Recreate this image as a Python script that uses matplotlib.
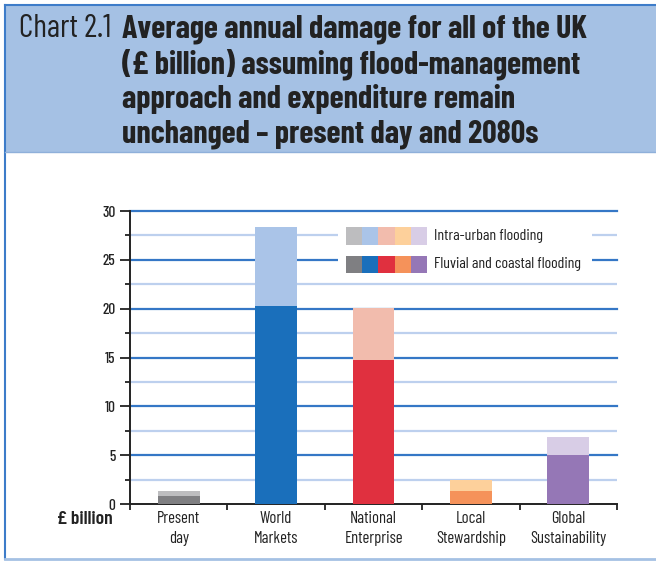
import matplotlib
matplotlib.use("Agg")
import matplotlib.pyplot as plt
from matplotlib.patches import Rectangle
from matplotlib.lines import Line2D
import numpy as np

NARROW = ["Barlow Condensed", "Archivo Narrow", "DejaVu Sans"]

categories = ["Present\nday", "World\nMarkets", "National\nEnterprise", "Local\nStewardship", "Global\nSustainability"]
fluvial = [0.85, 20.3, 14.7, 1.35, 5.05]
intra_urban = [0.5, 8.1, 5.4, 1.1, 1.8]
fluvial_colors = ["#7f7f82", "#1a6fbb", "#e0303f", "#f5925a", "#9577b6"]
intra_colors = ["#bdbdbf", "#aac4e8", "#f2bcad", "#fdd09b", "#d8cde6"]
legend_labels = ["Intra-urban flooding", "Fluvial and coastal flooding"]
yticks = [0, 5, 10, 15, 20, 25, 30]

W, H = 656, 563
fig = plt.figure(figsize=(W / 100, H / 100), dpi=100)

def fx(x):
    return x / W

def fy(y):
    return 1 - y / H

# title band and frame
border = "#3d7cc9"
fig.patches.append(Rectangle((fx(5), fy(152)), 1 - fx(5), fy(5) - fy(152),
                             transform=fig.transFigure, facecolor="#a5c1e4",
                             edgecolor="none", zorder=0))
fig.lines.append(Line2D([fx(5), fx(5)], [fy(5), fy(559)], transform=fig.transFigure, color=border, lw=1.5))
fig.lines.append(Line2D([fx(5), 1], [fy(5), fy(5)], transform=fig.transFigure, color=border, lw=1.5))
fig.lines.append(Line2D([fx(5), 1], [fy(559), fy(559)], transform=fig.transFigure, color="#a5c1e4", lw=2))
fig.lines.append(Line2D([fx(5), 1], [fy(152), fy(152)], transform=fig.transFigure, color="#8fb0da", lw=1))

fig.text(fx(19), fy(29), "Chart 2.1", fontsize=23, family=NARROW, color="#222222", va="center", ha="left")
title_lines = ["Average annual damage for all of the UK",
               "(£ billion) assuming flood-management",
               "approach and expenditure remain",
               "unchanged \u2013 present day and 2080s"]
for i, t in enumerate(title_lines):
    fig.text(fx(122), fy(29 + 35 * i), t, fontsize=23, family=NARROW, weight="bold",
             color="#222222", va="center", ha="left")

ax = fig.add_axes([fx(130), fy(504), fx(617) - fx(130), fy(211) - fy(504)])
x = np.arange(len(categories))
ax.bar(x, fluvial, width=0.43, color=fluvial_colors, zorder=3)
ax.bar(x, intra_urban, bottom=fluvial, width=0.43, color=intra_colors, zorder=3)

ax.set_xlim(-0.5, len(categories) - 0.5)
ax.set_ylim(0, 30)
for v in np.arange(2.5, 30, 5):
    ax.axhline(v, color="#bdd0ee", lw=1.6, zorder=1)
for v in yticks[1:]:
    ax.axhline(v, color="#3577c6", lw=1.6, zorder=1, clip_on=False)

for s in ["top", "right"]:
    ax.spines[s].set_visible(False)
ax.spines["left"].set_color("#222222")
ax.spines["bottom"].set_color("#222222")
ax.spines["left"].set_linewidth(1.4)
ax.spines["bottom"].set_linewidth(1.4)

ax.set_yticks(yticks)
ax.set_yticklabels([str(v) for v in yticks], family=NARROW, fontsize=11, weight="medium", color="#222222")
ax.set_yticks(np.arange(2.5, 30, 5), minor=True)
ax.tick_params(axis="y", which="major", direction="out", length=7, width=1.3, color="#222222", pad=3.5)
ax.tick_params(axis="y", which="minor", direction="out", length=3.6, width=1.3, color="#222222")

ax.set_xticks(np.arange(-0.5, len(categories), 1.0))
ax.set_xticklabels([])
ax.tick_params(axis="x", which="major", direction="out", length=4, width=1.3, color="#222222")
for i, c in enumerate(categories):
    ax.text(i, -0.7, c, ha="center", va="top", family=NARROW, fontsize=12,
            color="#222222", linespacing=1.4)
fig.text(fx(57), fy(520), "£ billion", family=NARROW, fontsize=14, weight="semibold",
         color="#222222", va="center", ha="left")

# legend (manual)
fig.patches.append(Rectangle((fx(338), fy(279)), fx(592) - fx(338), fy(222) - fy(279),
                             transform=fig.transFigure, facecolor="white", edgecolor="none", zorder=2))
sw = (427 - 346) / 5
for row, (cols, lab, ytop, ybot) in enumerate([(intra_colors, legend_labels[0], 227, 245),
                                                (fluvial_colors, legend_labels[1], 256, 273)]):
    for j, c in enumerate(cols):
        fig.patches.append(Rectangle((fx(346 + j * sw), fy(ybot)), fx(sw), fy(ytop) - fy(ybot),
                                     transform=fig.transFigure, facecolor=c, edgecolor="none", zorder=3))
    fig.text(fx(434), fy((ytop + ybot) / 2), lab, family=NARROW, fontsize=11.5, color="#222222",
             va="center", ha="left", zorder=4)

fig.savefig("out.png", dpi=100)
